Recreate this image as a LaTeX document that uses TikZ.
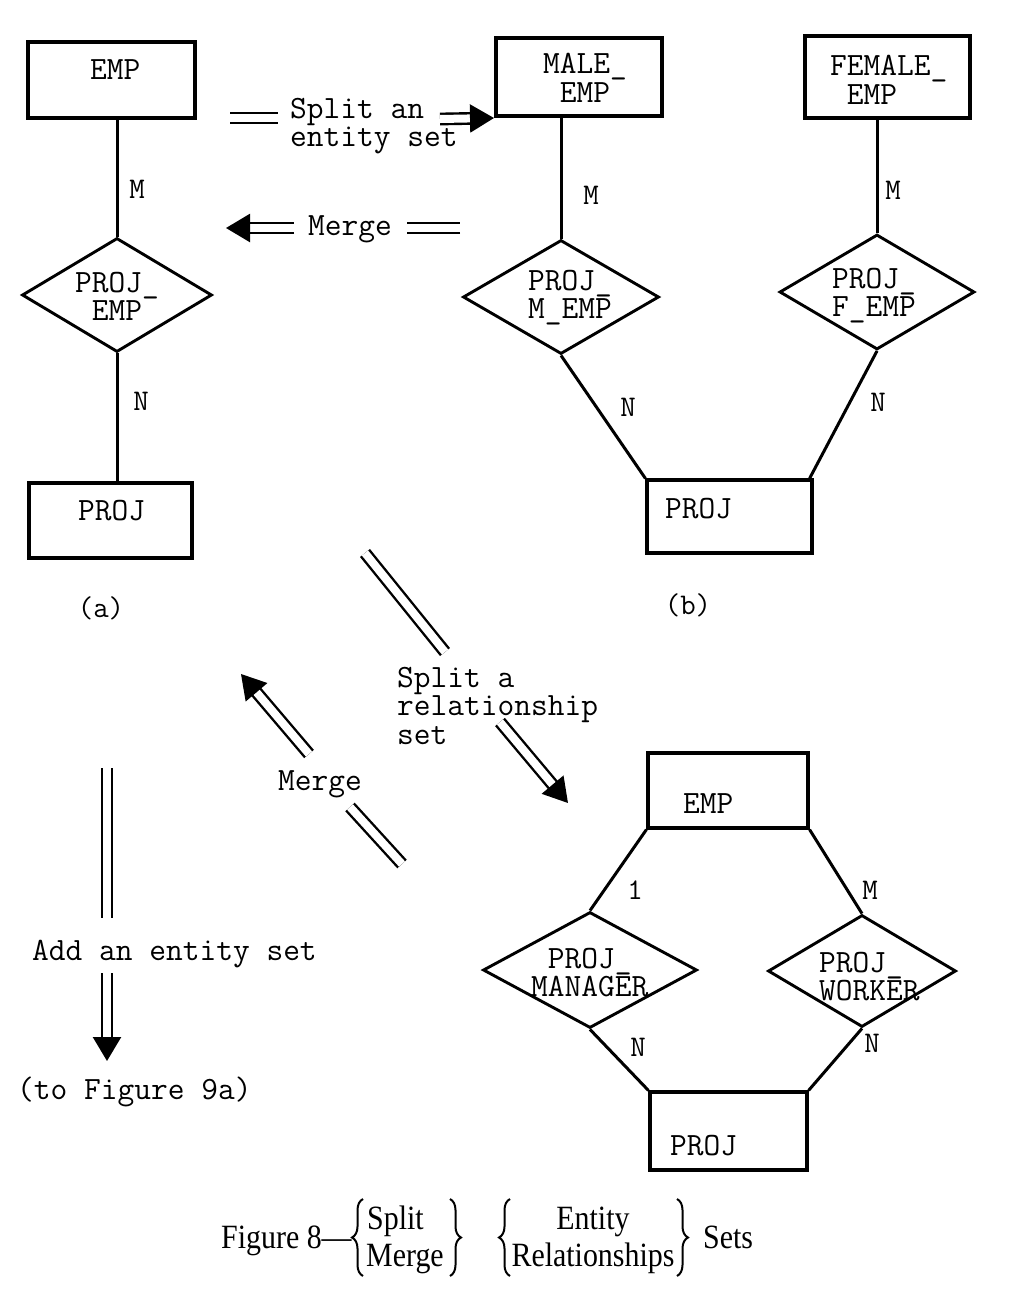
\documentclass[tikz,border=0pt]{standalone}
\usepackage{fontspec}
\newfontfamily\capfont[FakeStretch=0.88]{Liberation Serif}
\usetikzlibrary{shapes.geometric,arrows.meta,decorations.pathreplacing}
\begin{document}
\begin{tikzpicture}[x=1pt,y=-1pt,
  ent/.style={draw, line width=3.2pt, inner sep=0pt},
  rel/.style={draw, diamond, line width=2.9pt, inner sep=0pt},
  conn/.style={line width=3pt},
  tw/.style={font=\ttfamily\fontsize{32.5}{28.5}\selectfont, inner sep=0pt, align=left, anchor=north west},
  lab/.style={font=\ttfamily\fontsize{30}{30}\selectfont, inner sep=0pt},
  captext/.style={font=\capfont\fontsize{34}{38}\selectfont, inner sep=0pt},
  capbrace/.style={decorate, decoration={brace, amplitude=11pt}, line width=2pt},
  dbl/.style={double distance=8pt, line width=2.4pt},
  dblarr/.style={dbl, -{Triangle[length=24pt,width=28pt]}},
]
\useasboundingbox (0,0) rectangle (1013,1299);

% ---------- panel (a)
\node[ent, minimum width=167pt, minimum height=76pt] (empa) at (111.5,80) {};
\node[rel, minimum width=190pt, minimum height=114pt] (diaa) at (117,295) {};
\node[ent, minimum width=163pt, minimum height=75pt] (proja) at (110.5,520.5) {};
\draw[conn] (empa.south -| diaa.north) -- (diaa.north);
\draw[conn] (diaa.south) -- (diaa.south |- proja.north);
\node[tw] (tempa) at (90,59) {EMP};
\node[tw] (tdiaa) at (75,272) {PROJ\_\\\hphantom{P}EMP};
\node[tw] (tproja) at (78,500) {PROJ};
\node[lab] (la1) at (137,189) {M};
\node[lab] (la2) at (141,401) {N};
\node[lab] (capa) at (101,608) {(a)};

% ---------- panel (b)
\node[ent, minimum width=166pt, minimum height=78pt] (male) at (579,77) {};
\node[ent, minimum width=165pt, minimum height=82pt] (female) at (887.5,77) {};
\node[rel, minimum width=196pt, minimum height=114pt] (diam) at (561,297) {};
\node[rel, minimum width=195pt, minimum height=115pt] (diaf) at (877,292) {};
\node[ent, minimum width=165pt, minimum height=73pt] (projb) at (729.5,516.5) {};
\draw[conn] (male.south -| diam.north) -- (diam.north);
\draw[conn] (female.south -| diaf.north) -- (diaf.north);
\draw[conn] (diam.south) -- (projb.north west);
\draw[conn] (diaf.south) -- ([xshift=-4pt]projb.north east);
\node[tw] (tmale) at (543,53) {MALE\_\\\hphantom{M}EMP};
\node[tw] (tfemale) at (830,55) {FEMALE\_\\\hphantom{F}EMP};
\node[tw] (tdiam) at (528,270) {PROJ\_\\M\_EMP};
\node[tw] (tdiaf) at (832,268) {PROJ\_\\F\_EMP};
\node[tw] (tprojb) at (665,498) {PROJ};
\node[lab] (lb1) at (591,195) {M};
\node[lab] (lb2) at (893,190) {M};
\node[lab] (lb3) at (628,407) {N};
\node[lab] (lb4) at (878,402) {N};
\node[lab] (capb) at (688,605) {(b)};

% ---------- panel (c)
\node[ent, minimum width=160pt, minimum height=75pt] (empc) at (728,790.5) {};
\node[rel, minimum width=214pt, minimum height=116pt] (diamg) at (590,970) {};
\node[rel, minimum width=188pt, minimum height=112pt] (diawk) at (862,971) {};
\node[ent, minimum width=157pt, minimum height=78pt] (projc) at (728.5,1131) {};
\draw[conn] (empc.south west) -- (diamg.north);
\draw[conn] (empc.south east) -- (diawk.north);
\draw[conn] (diamg.south) -- (projc.north west);
\draw[conn] (diawk.south) -- (projc.north east);
\node[tw] (tempc) at (683,793) {EMP};
\node[tw] (tdiamg) at (531,948) {\hphantom{M}PROJ\_\\MANAGER};
\node[tw] (tdiawk) at (819,952) {PROJ\_\\WORKER};
\node[tw] (tprojc) at (670,1135) {PROJ};
\node[lab] (lc1) at (635,890) {1};
\node[lab] (lc2) at (870,890) {M};
\node[lab] (lc3) at (638,1047) {N};
\node[lab] (lc4) at (872,1043) {N};

% ---------- transformation arrows
\node[tw] (tsplit1) at (290,98) {Split an\\entity set};
\coordinate (s1a) at (230,118);
\coordinate (s1b) at (278,118);
\coordinate (s1c) at (440,119);
\coordinate (s1d) at (494,118);
\draw[dbl] (s1a) -- (s1b);
\draw[dblarr] (s1c) -- (s1d);

\node[tw] (tmerge1) at (308,215) {Merge};
\coordinate (m1a) at (460,228);
\coordinate (m1b) at (407,228);
\coordinate (m1c) at (294,228);
\coordinate (m1d) at (226,228);
\draw[dbl] (m1a) -- (m1b);
\draw[dblarr] (m1c) -- (m1d);

\node[tw] (tsplit2) at (397,667) {Split a\\relationship\\set};
\coordinate (s2a) at (365,553);
\coordinate (s2b) at (445,652);
\coordinate (s2c) at (500,722);
\coordinate (s2d) at (568,803);
\draw[dbl] (s2a) -- (s2b);
\draw[dblarr] (s2c) -- (s2d);

\node[tw] (tmerge2) at (278,770) {Merge};
\coordinate (m2a) at (402,864);
\coordinate (m2b) at (350,807);
\coordinate (m2c) at (309,754);
\coordinate (m2d) at (241,674);
\draw[dbl] (m2a) -- (m2b);
\draw[dblarr] (m2c) -- (m2d);

\node[tw] (tadd) at (32,940) {Add an entity set};
\coordinate (a1) at (107,768);
\coordinate (a2) at (107,918);
\coordinate (a3) at (107,973);
\coordinate (a4) at (107,1061);
\draw[dbl] (a1) -- (a2);
\draw[dblarr] (a3) -- (a4);
\node[tw, anchor=west] (tto) at (17,1092) {(to Figure 9a)};

% ---------- caption
\node[captext, anchor=base west] (cfig) at (221,1248) {Figure 8—};
\node[captext, anchor=base west] (csplit) at (367,1229) {Split};
\node[captext, anchor=base west] (cmerge) at (366,1266) {Merge};
\node[captext, anchor=base] (centity) at (593,1229) {Entity};
\node[captext, anchor=base] (crel) at (593,1266) {Relationships};
\node[captext, anchor=base west] (csets) at (703,1248) {Sets};
\coordinate (b1a) at (363,1276);
\coordinate (b1b) at (363,1199);
\coordinate (b2a) at (450,1199);
\coordinate (b2b) at (450,1276);
\coordinate (b3a) at (510,1276);
\coordinate (b3b) at (510,1199);
\coordinate (b4a) at (677,1199);
\coordinate (b4b) at (677,1276);
\draw[capbrace] (b1a) -- (b1b);
\draw[capbrace] (b2a) -- (b2b);
\draw[capbrace] (b3a) -- (b3b);
\draw[capbrace] (b4a) -- (b4b);
\end{tikzpicture}
\end{document}
